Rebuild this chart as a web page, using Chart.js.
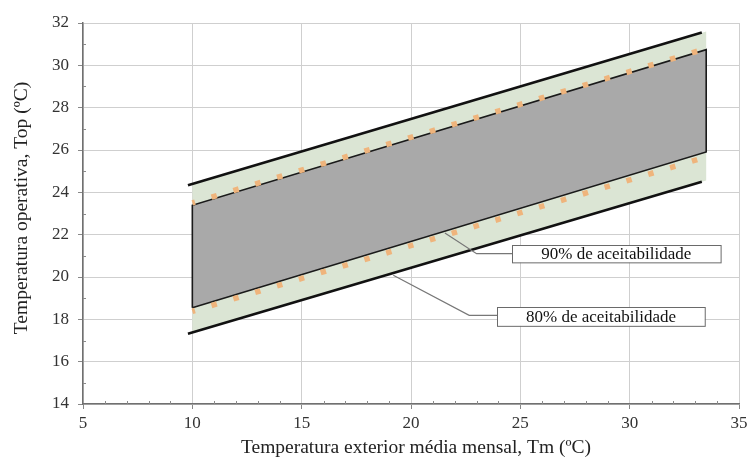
<!DOCTYPE html>
<html>
<head>
<meta charset="utf-8">
<script src="https://cdn.jsdelivr.net/npm/chart.js@4.4.1/dist/chart.umd.min.js"></script>
<style>body{margin:0;background:#fff}</style>
</head>
<body>
<canvas id="c" width="752" height="457"></canvas>
<script>
// x / y values (end points of each straight line)
const xTicks = [5, 10, 15, 20, 25, 30, 35];
const yTicks = [14, 16, 18, 20, 22, 24, 26, 28, 30, 32];

const lineX = [9.8, 33.3];          // black 80% limit lines
const upper80 = [24.33, 31.55];
const lower80 = [17.32, 24.5];

const bandX = [10, 33.5];           // shaded bands
const greenTop = [24.37, 31.6];
const greenBot = [17.36, 24.56];
const grayTop = [23.39, 30.74];
const grayBot = [18.55, 25.91];

const dotX = [10, 33.2];            // orange dotted 90% lines
const dotTop = [23.5, 30.7];
const dotBot = [18.38, 25.58];

const calloutLabels = ['90% de aceitabilidade', '80% de aceitabilidade'];
const calloutBoxX = [[24.62, 34.16], [23.94, 33.44]];
const calloutBoxY = [[21.5, 20.68], [18.58, 17.69]];
const leaderX = [[21.55, 23.0, 24.62], [19.19, 22.66, 23.94]];
const leaderY = [[22.08, 21.1, 21.1], [20.08, 18.19, 18.19]];

const FONT = '"Liberation Serif", "Times New Roman", serif';

function pts(xs, ys) {
  return xs.map((x, i) => ({x: x, y: ys[i]}));
}
function band(xs, top, bot) {
  return [
    {x: xs[0], y: bot[0]}, {x: xs[1], y: bot[1]},
    {x: xs[1], y: top[1]}, {x: xs[0], y: top[0]},
    {x: xs[0], y: bot[0]}
  ];
}

const decor = {
  id: 'decor',
  beforeDatasetsDraw(chart) {
    const {ctx, chartArea: a, scales: {x, y}} = chart;
    ctx.save();
    ctx.strokeStyle = '#8a8a8a';
    ctx.lineWidth = 1;
    ctx.beginPath();
    for (let v = 6; v < 35; v++) {
      if (v % 5 === 0) continue;
      const px = Math.round(x.getPixelForValue(v)) + 0.5;
      ctx.moveTo(px, a.bottom);
      ctx.lineTo(px, a.bottom - 3);
    }
    for (let v = 15; v < 32; v += 2) {
      const py = Math.round(y.getPixelForValue(v)) + 0.5;
      ctx.moveTo(a.left, py);
      ctx.lineTo(a.left + 3, py);
    }
    ctx.stroke();
    ctx.restore();
  },
  afterDraw(chart) {
    const {ctx, chartArea: a, scales: {x, y}} = chart;
    ctx.save();
    // callout boxes
    ctx.font = '17px ' + FONT;
    ctx.textAlign = 'center';
    ctx.textBaseline = 'middle';
    calloutLabels.forEach((t, i) => {
      const x0 = x.getPixelForValue(calloutBoxX[i][0]);
      const x1 = x.getPixelForValue(calloutBoxX[i][1]);
      const y0 = y.getPixelForValue(calloutBoxY[i][0]);
      const y1 = y.getPixelForValue(calloutBoxY[i][1]);
      ctx.fillStyle = '#fff';
      ctx.fillRect(x0, y0, x1 - x0, y1 - y0);
      ctx.strokeStyle = '#6a6a6a';
      ctx.lineWidth = 1;
      ctx.strokeRect(Math.round(x0) + 0.5, Math.round(y0) + 0.5, x1 - x0, y1 - y0);
      ctx.fillStyle = '#111';
      ctx.fillText(t, (x0 + x1) / 2, (y0 + y1) / 2 + 1);
    });
    // axis titles
    ctx.fillStyle = '#222';
    ctx.font = '19.5px ' + FONT;
    ctx.fillText('Temperatura exterior média mensal, Tm (ºC)', 416, 448);
    ctx.translate(22, 208);
    ctx.rotate(-Math.PI / 2);
    ctx.fillText('Temperatura operativa, Top (ºC)', 0, 0);
    ctx.restore();
  }
};

const common = {pointRadius: 0, pointHoverRadius: 0, tension: 0};

new Chart(document.getElementById('c'), {
  type: 'line',
  data: {
    datasets: [
      Object.assign({data: band(bandX, greenTop, greenBot), fill: 'shape',
        backgroundColor: '#dbe5d4', borderWidth: 0, borderColor: 'rgba(0,0,0,0)', order: 5}, common),
      Object.assign({data: band(bandX, grayTop, grayBot), fill: 'shape',
        backgroundColor: '#a9a9a9', borderWidth: 1.6, borderColor: '#1a1a1a', order: 4}, common),
      Object.assign({data: pts(dotX, dotTop), borderColor: '#efb47c', borderWidth: 5.5,
        borderDash: [5.5, 17.3], borderDashOffset: 2.75, fill: false, order: 3}, common),
      Object.assign({data: pts(dotX, dotBot), borderColor: '#efb47c', borderWidth: 5.5,
        borderDash: [5.5, 17.3], borderDashOffset: 2.75, fill: false, order: 3}, common),
      Object.assign({data: pts(lineX, upper80), borderColor: '#111', borderWidth: 2.6, fill: false, order: 2}, common),
      Object.assign({data: pts(lineX, lower80), borderColor: '#111', borderWidth: 2.6, fill: false, order: 2}, common),
      Object.assign({data: pts(leaderX[0], leaderY[0]), borderColor: '#777', borderWidth: 1.2, fill: false, order: 1}, common),
      Object.assign({data: pts(leaderX[1], leaderY[1]), borderColor: '#777', borderWidth: 1.2, fill: false, order: 1}, common)
    ]
  },
  options: {
    responsive: false,
    animation: false,
    events: [],
    layout: {padding: {top: 23, right: 13, left: 0, bottom: 0}},
    plugins: {legend: {display: false}, tooltip: {enabled: false}},
    scales: {
      x: {
        type: 'linear',
        min: 5, max: 35,
        afterBuildTicks: s => { s.ticks = xTicks.map(v => ({value: v})); },
        afterFit: s => { s.height = 53; },
        grid: {color: '#cfcfcf', tickLength: 5, tickColor: '#888'},
        border: {color: '#707070', width: 1.5},
        ticks: {color: '#333', padding: 4, font: {family: FONT, size: 17}}
      },
      y: {
        type: 'linear',
        min: 14, max: 32,
        afterBuildTicks: s => { s.ticks = yTicks.map(v => ({value: v})); },
        afterFit: s => { s.width = 83; },
        grid: {color: '#cfcfcf', tickLength: 5, tickColor: '#888'},
        border: {color: '#707070', width: 1.5},
        ticks: {color: '#333', padding: 9, font: {family: FONT, size: 17}}
      }
    }
  },
  plugins: [decor]
});
</script>
</body>
</html>
